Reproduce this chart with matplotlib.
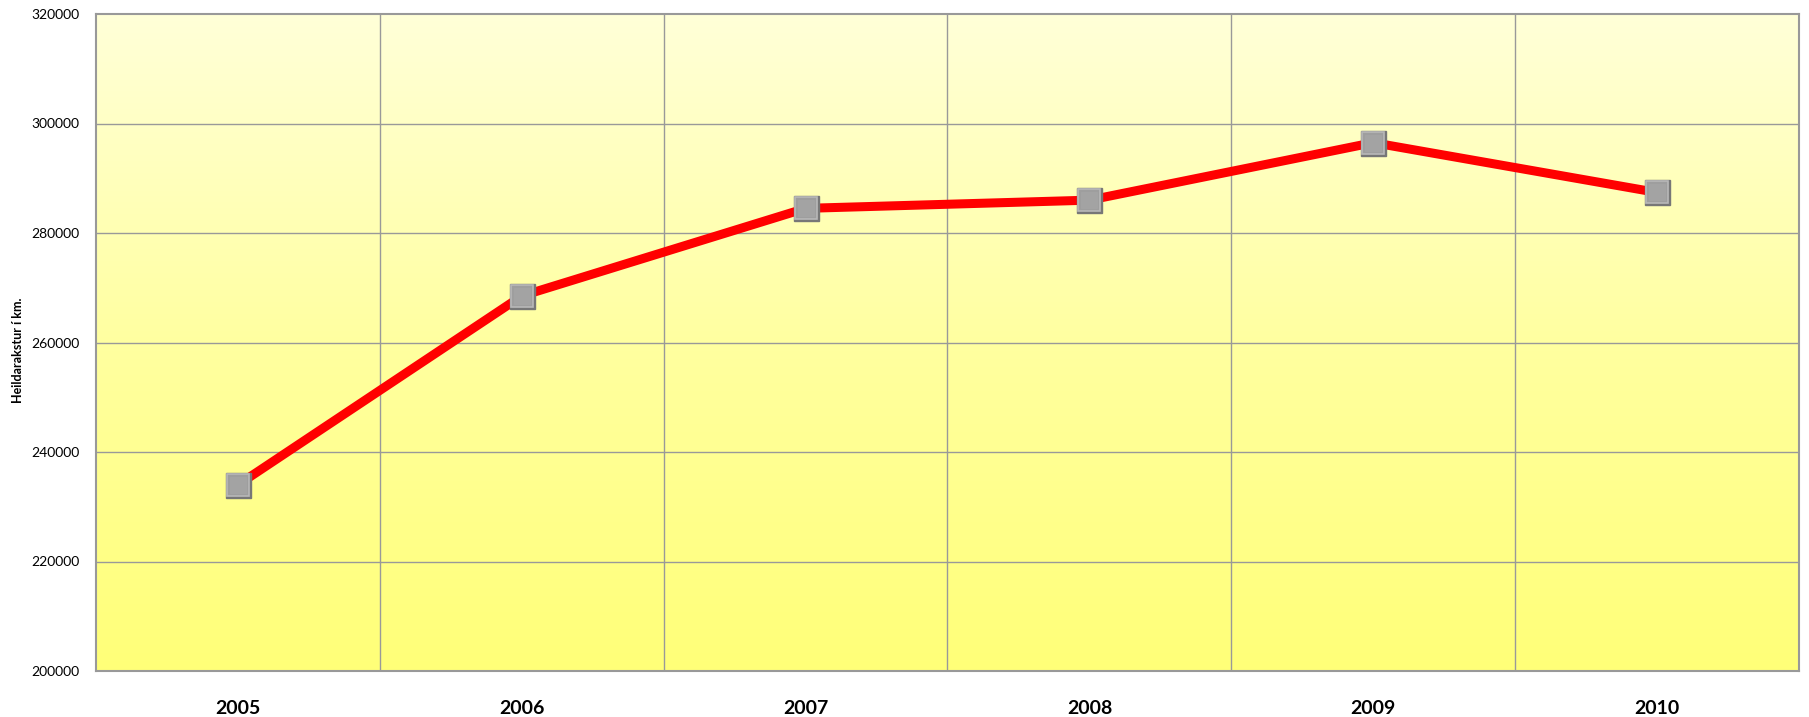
import numpy as np
import matplotlib.pyplot as plt
from matplotlib.colors import LinearSegmentedColormap

years = ["2005", "2006", "2007", "2008", "2009", "2010"]
km = [234000, 268500, 284500, 286000, 296500, 287400]
y_ticks = [200000, 220000, 240000, 260000, 280000, 300000, 320000]

plt.rcParams["font.family"] = ["Lato", "DejaVu Sans"]

fig = plt.figure(figsize=(18.09, 7.17), dpi=100)
ax = fig.add_axes([96 / 1809, 1 - 671 / 717, (1799 - 96) / 1809, (671 - 14) / 717])

x = np.arange(len(years))
ax.set_xlim(-0.5, len(years) - 0.5)
ax.set_ylim(200000, 320000)

# yellow gradient background
cmap = LinearSegmentedColormap.from_list("bg", ["#ffff78", "#ffffa0", "#ffffd8"])
grad = np.linspace(0, 1, 256).reshape(-1, 1)
ax.imshow(grad, cmap=cmap, aspect="auto", origin="lower",
          extent=[-0.5, len(years) - 0.5, 200000, 320000], zorder=0)

for yv in y_ticks[1:-1]:
    ax.axhline(yv, color="#999999", lw=1.0, zorder=1)
for b in np.arange(0.5, len(years) - 0.5, 1):
    ax.axvline(b, color="#999999", lw=1.0, zorder=1)

ax.plot(x, km, color="#ff0000", lw=6.5, zorder=3, solid_capstyle="butt")
# shadow, body and highlight of the bevelled markers
ax.plot(x, km, ls="none", marker="s", markersize=18, markerfacecolor="#777777",
        markeredgecolor="#777777", zorder=4)
ax.plot(x, km, ls="none", marker="s", markersize=16.5, markerfacecolor="#9e9e9e",
        markeredgecolor="#b8b8b8", markeredgewidth=1.2, zorder=5)
ax.plot(x, km, ls="none", marker="s", markersize=12, markerfacecolor="#a3a3a3",
        markeredgecolor="#a3a3a3", zorder=6)

ax.set_xticks(x)
ax.set_xticklabels(years, fontsize=14, fontweight="bold")
ax.set_yticks(y_ticks)
ax.set_yticklabels([str(v) for v in y_ticks], fontsize=10)
ax.tick_params(axis="both", length=0)
ax.tick_params(axis="x", pad=21)
ax.tick_params(axis="y", pad=12)

for s in ax.spines.values():
    s.set_color("#999999")
    s.set_linewidth(1.5)

fig.text(18 / 1809, 1 - 350 / 717, "Heildarakstur í km.", rotation=90,
         fontsize=9, fontweight="bold", ha="center", va="center")

fig.savefig("out.png", dpi=100)
